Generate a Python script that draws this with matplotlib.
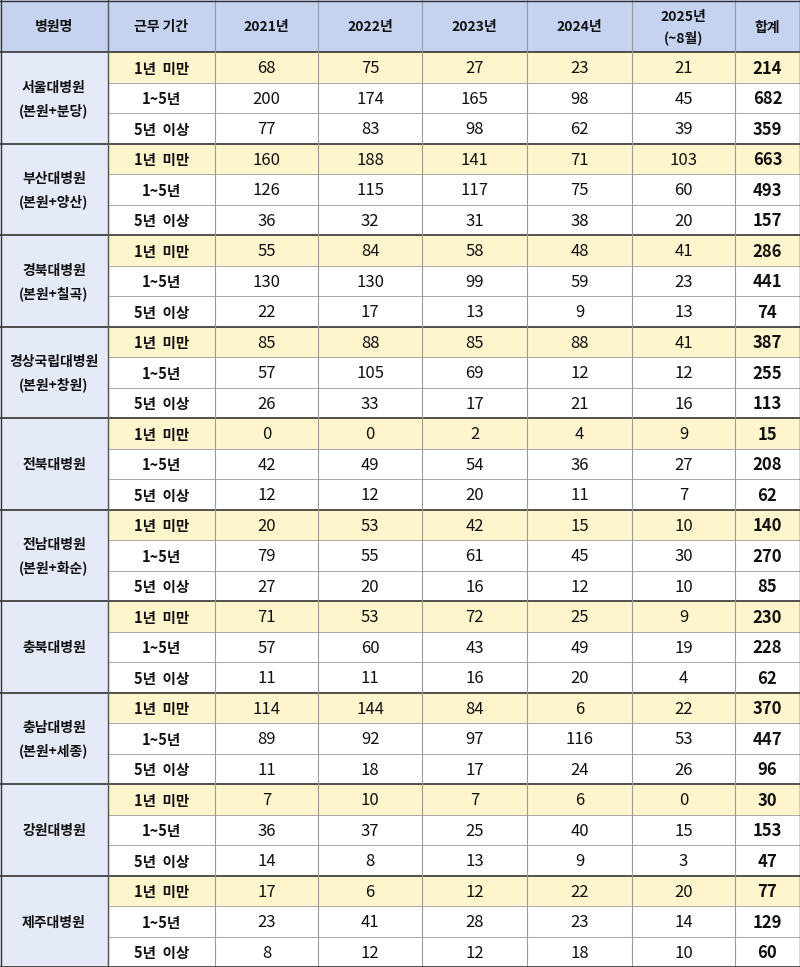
import matplotlib.pyplot as plt

plt.rcParams['font.family'] = ['Noto Sans CJK KR', 'DejaVu Sans']

headers = ['병원명', '근무 기간', '2021년', '2022년', '2023년', '2024년', '2025년\n(~8월)', '합계']
hospitals = ['서울대병원\n(본원+분당)', '부산대병원\n(본원+양산)', '경북대병원\n(본원+칠곡)',
             '경상국립대병원\n(본원+창원)', '전북대병원', '전남대병원\n(본원+화순)',
             '충북대병원', '충남대병원\n(본원+세종)', '강원대병원', '제주대병원']
periods = ['1년  미만', '1~5년', '5년  이상']
values = [
    [68, 75, 27, 23, 21, 214], [200, 174, 165, 98, 45, 682], [77, 83, 98, 62, 39, 359],
    [160, 188, 141, 71, 103, 663], [126, 115, 117, 75, 60, 493], [36, 32, 31, 38, 20, 157],
    [55, 84, 58, 48, 41, 286], [130, 130, 99, 59, 23, 441], [22, 17, 13, 9, 13, 74],
    [85, 88, 85, 88, 41, 387], [57, 105, 69, 12, 12, 255], [26, 33, 17, 21, 16, 113],
    [0, 0, 2, 4, 9, 15], [42, 49, 54, 36, 27, 208], [12, 12, 20, 11, 7, 62],
    [20, 53, 42, 15, 10, 140], [79, 55, 61, 45, 30, 270], [27, 20, 16, 12, 10, 85],
    [71, 53, 72, 25, 9, 230], [57, 60, 43, 49, 19, 228], [11, 11, 16, 20, 4, 62],
    [114, 144, 84, 6, 22, 370], [89, 92, 97, 116, 53, 447], [11, 18, 17, 24, 26, 96],
    [7, 10, 7, 6, 0, 30], [36, 37, 25, 40, 15, 153], [14, 8, 13, 9, 3, 47],
    [17, 6, 12, 22, 20, 77], [23, 41, 28, 23, 14, 129], [8, 12, 12, 18, 10, 60],
]

W, H = 800, 967
xs = [0, 108, 215, 318, 422, 527, 632, 735, 800]
hdr_h = 52
row_h = (H - hdr_h) / 30
dy = 1.5  # CJK font sits a bit high with va='center'

fig = plt.figure(figsize=(8, 9.67), dpi=100)
ax = fig.add_axes([0, 0, 1, 1])
ax.set_xlim(0, W)
ax.set_ylim(H, 0)
ax.axis('off')

HDR = '#c5d2f0'
HOSP = '#e4eaf8'
YEL = '#fff5cc'
GRID = '#9a9a9a'

def cell(x0, x1, y0, y1, color):
    ax.add_patch(plt.Rectangle((x0, y0), x1 - x0, y1 - y0, facecolor=color, edgecolor='none'))

# header
for i, h in enumerate(headers):
    cell(xs[i], xs[i + 1], 0, hdr_h, HDR)
    ax.text((xs[i] + xs[i + 1]) / 2, hdr_h / 2 + dy, h, ha='center', va='center',
            fontsize=10, fontweight='bold', color='#111111', linespacing=1.5)

for r in range(30):
    y0 = hdr_h + r * row_h
    y1 = y0 + row_h
    yc = (y0 + y1) / 2 + dy
    bg = YEL if r % 3 == 0 else 'white'
    cell(xs[1], W, y0, y1, bg)
    ax.text((xs[1] + xs[2]) / 2, yc, periods[r % 3], ha='center', va='center',
            fontsize=10.5, fontweight='bold', color='#111111')
    for j, v in enumerate(values[r]):
        bold = j == 5
        ax.text((xs[j + 2] + xs[j + 3]) / 2, yc, str(v), ha='center', va='center',
                fontsize=12, fontweight='bold' if bold else 'normal', color='#111111')
    if r % 3 != 0:
        ax.plot([xs[1], W], [y0, y0], color=GRID, lw=0.6)

for g, name in enumerate(hospitals):
    y0 = hdr_h + g * 3 * row_h
    y1 = y0 + 3 * row_h
    cell(0, xs[1], y0, y1, HOSP)
    ax.text(xs[1] / 2, (y0 + y1) / 2 + dy, name, ha='center', va='center',
            fontsize=10, fontweight='bold', color='#111111', linespacing=1.7)
    ax.plot([0, W], [y0, y0], color='#333333', lw=1.2)

for x in xs[1:-1]:
    ax.plot([x, x], [0, H], color=GRID, lw=0.8)
ax.plot([xs[1], xs[1]], [0, H], color='#555555', lw=1.0)
ax.plot([0, W], [H - 0.5, H - 0.5], color='#333333', lw=1.2)
ax.plot([0.5, 0.5], [0, H], color='#333333', lw=1.0)
ax.plot([W - 0.5, W - 0.5], [0, H], color='#333333', lw=1.0)
ax.plot([0, W], [0.5, 0.5], color='#333333', lw=1.0)

fig.savefig('out.png', dpi=100)
